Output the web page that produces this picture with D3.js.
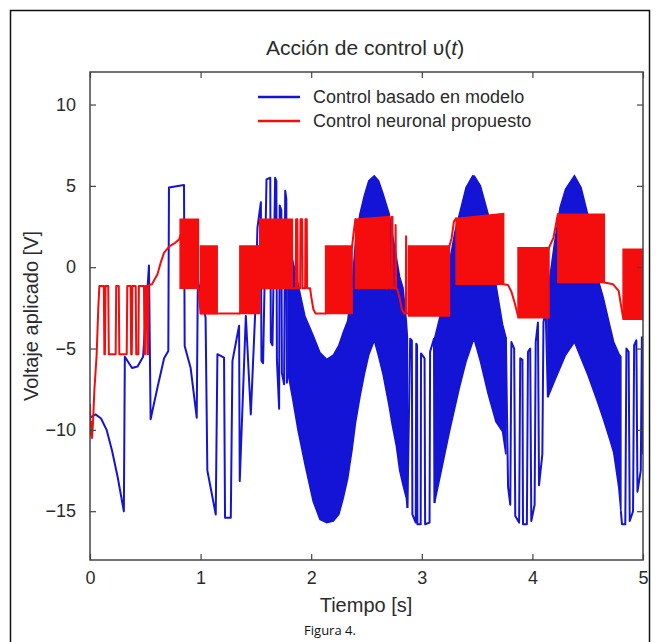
<!DOCTYPE html>
<html>
<head>
<meta charset="utf-8">
<script src="https://cdn.jsdelivr.net/npm/d3@7"></script>
<style>
  body { margin: 0; background: #fff; }
  svg { display: block; }
</style>
</head>
<body>
<svg id="chart" width="656" height="642"></svg>
<script>
// Acción de control v(t)
const xTicks = [0, 1, 2, 3, 4, 5];
const yTicks = [-15, -10, -5, 0, 5, 10];
const seriesNames = ["Control basado en modelo", "Control neuronal propuesto"];

// blue: sparse parts as lines [t, v]
const blueLineA = [
  [0.000,-9.25],[0.05,-9.05],[0.10,-9.3],[0.15,-10.0],[0.20,-11.3],[0.25,-12.9],[0.306,-15.0],
  [0.315,-5.5],[0.38,-6.2],[0.43,-6.1],[0.48,-5.5],[0.533,0.1],[0.548,-9.35],[0.61,-7.4],
  [0.67,-5.6],[0.708,-5.15],[0.714,4.9],[0.85,5.05],[0.856,-4.85],[0.91,-6.2],[0.965,-9.25],
  [0.975,-0.8],[1.045,-3.1],[1.061,-12.5],[1.137,-15.2],[1.152,-5.35],[1.212,-5.56],[1.221,-15.4],
  [1.273,-15.4],[1.288,-5.76],[1.348,-3.6],[1.354,-13.15],[1.409,-3.0],[1.454,-9.05],[1.493,-2.9],
  [1.514,2.44],[1.545,4.0],[1.55,-5.76],[1.565,-5.9],[1.596,5.4],[1.63,5.5],[1.635,-4.6],
  [1.65,-4.8],[1.674,5.5],[1.685,5.3],[1.69,-5.7],[1.71,-8.7],[1.715,3.8],[1.73,3.5],
  [1.735,-6.5],[1.755,-7.2],[1.765,4.7],[1.775,4.2],[1.78,-7.1],[1.79,-6.5]
];
const blueLineB = [
  [2.87,-14.8],[2.895,-4.4],[2.91,-4.5],[2.915,-15.2],[2.945,-15.7],[2.95,-4.7],[2.957,-4.8],
  [2.96,-15.8],[2.99,-15.8],[2.993,-5.3],[3.025,-5.6],[3.03,-15.8],[3.07,-15.7],[3.075,-5.2],
  [3.11,-4.4],[3.115,-14.5]
];
const blueLineC = [
  [3.76,-4.3],[3.78,-13.5],[3.80,-14.6],[3.81,-4.6],[3.835,-5.0],[3.845,-15.3],[3.88,-15.7],
  [3.89,-5.6],[3.91,-5.7],[3.915,-15.8],[3.95,-15.8],[3.96,-5.2],[3.98,-5.0],[3.99,-15.6],
  [4.02,-14.6],[4.03,-4.6],[4.05,-3.4],[4.06,-13.4],[4.09,-11.5],[4.10,-3.4],[4.12,-2.6],[4.14,-8.0]
];
const blueLineD = [
  [4.80,-15.0],[4.81,-15.8],[4.84,-15.8],[4.85,-5.0],[4.87,-5.2],[4.88,-15.6],[4.91,-15.0],
  [4.92,-4.8],[4.94,-4.5],[4.95,-13.8],[4.98,-12.5],[4.99,-4.3],[5.0,-11.5]
];

// blue: dense switching parts as bands [t, upper, lower]
const blueBand1 = [
  [1.79,2.0,-6.5],[1.83,0.5,-8.0],[1.88,-1.0,-10.0],[1.943,-3.0,-12.1],[2.018,-4.2,-14.4],
  [2.079,-5.25,-15.5],[2.14,-5.66,-15.7],[2.20,-5.4,-15.6],[2.25,-4.8,-15.2],[2.29,-4.0,-14.2],
  [2.33,-3.3,-13.0],[2.37,-1.0,-11.2],[2.40,1.5,-9.6],[2.44,3.26,-8.0],[2.48,4.4,-6.6],
  [2.52,5.3,-5.4],[2.57,5.62,-4.5],[2.61,5.3,-5.5],[2.65,4.5,-6.6],[2.706,3.26,-8.6],
  [2.73,2.2,-9.6],[2.77,0.6,-11.0],[2.80,-0.6,-12.5],[2.83,-1.25,-13.4],[2.86,-3.3,-14.2],
  [2.87,-4.3,-14.8]
];
const blueBand2 = [
  [3.115,-4.4,-14.5],[3.18,-2.6,-12.4],[3.25,0.3,-10.1],[3.30,2.2,-8.6],[3.34,3.26,-7.4],
  [3.40,4.9,-5.8],[3.46,5.62,-4.6],[3.476,5.6,-4.5],[3.53,5.0,-5.8],[3.60,3.26,-7.8],
  [3.67,-1.05,-9.5],[3.73,-3.5,-10.1],[3.76,-4.3,-11.5]
];
const blueBand3 = [
  [4.14,-1.5,-8.0],[4.20,1.5,-7.0],[4.25,3.67,-6.2],[4.30,4.8,-5.4],[4.38,5.62,-4.6],
  [4.44,4.9,-5.6],[4.50,3.26,-6.6],[4.58,-0.43,-8.1],[4.64,-1.85,-9.3],[4.70,-3.6,-10.6],
  [4.735,-4.6,-11.4],[4.78,-5.3,-13.5],[4.80,-5.5,-15.0]
];

// red: continuous path [t, v]
const redLine = [
  [0.000,-8.4],[0.006,-10.3],[0.012,-9.5],[0.018,-10.5],[0.026,-9.7],[0.04,-7.5],[0.06,-5.4],
  [0.075,-2.5],[0.085,-1.15],[0.125,-1.15],[0.13,-5.35],[0.135,-5.35],[0.14,-1.15],[0.165,-1.15],
  [0.17,-5.35],[0.232,-5.35],[0.237,-1.15],[0.26,-1.15],[0.265,-5.35],[0.332,-5.35],[0.337,-1.15],
  [0.367,-1.15],[0.372,-5.35],[0.378,-5.35],[0.383,-1.15],[0.413,-1.15],[0.418,-5.35],[0.437,-5.35],
  [0.442,-1.15],[0.488,-1.15],[0.493,-5.35],[0.498,-5.35],[0.503,-1.15],[0.515,-1.15],[0.52,-5.35],
  [0.525,-5.35],[0.53,-1.1],[0.56,-1.05],[0.61,-0.43],[0.64,0.3],[0.67,0.9],[0.72,1.3],[0.77,1.5],
  [0.805,1.7],[0.82,2.0],[0.98,-1.3],[0.99,-2.0],[1.0,-2.85],[1.15,-2.85],[1.355,-2.85],
  [1.535,1.3],[1.54,-1.3],[1.83,-1.3],[1.86,-1.3],[1.863,2.95],[1.875,2.95],[1.878,-1.3],
  [1.90,-1.3],[1.903,2.95],[1.918,2.95],[1.921,-1.3],[1.945,-1.3],[1.948,2.95],[1.96,2.95],
  [1.963,-1.3],[1.99,-1.3],[2.0,-1.8],[2.02,-2.6],[2.04,-2.85],[2.13,-2.85],[2.37,1.3],
  [2.385,2.2],[2.40,2.95],[2.68,-1.3],[2.69,-1.3],[2.693,3.1],[2.705,3.1],[2.708,-1.3],
  [2.725,-1.3],[2.728,3.1],[2.735,3.1],[2.738,-1.3],[2.76,-1.3],[2.763,2.6],[2.768,-1.3],
  [2.78,-1.4],[2.80,-1.9],[2.82,-2.6],[2.84,-2.85],[2.855,-2.85],[2.858,1.9],[2.862,-2.85],
  [2.88,-2.85],[3.25,1.3],[3.27,1.8],[3.29,2.8],[3.31,3.0],[3.74,-1.05],[3.78,-1.1],[3.81,-1.5],
  [3.84,-2.2],[3.87,-3.0],[4.15,1.2],[4.19,1.8],[4.23,3.26],[4.65,-0.94],[4.73,-1.05],
  [4.78,-1.46],[4.80,-2.3],[4.82,-3.1],[5.0,-3.2]
];
// red: dense switching bands [t0, t1, high at t0, high at t1, low]
const redBands = [
  [0.815,0.98,2.95,2.95,-1.3],
  [1.0,1.15,1.3,1.3,-2.85],
  [1.355,1.535,1.3,1.3,-2.85],
  [1.535,1.83,2.95,2.95,-1.3],
  [2.13,2.37,1.3,1.3,-2.85],
  [2.40,2.68,2.95,3.1,-1.3],
  [2.88,3.25,1.3,1.3,-3.0],
  [3.31,3.74,3.0,3.3,-1.05],
  [3.87,4.15,1.2,1.2,-3.1],
  [4.23,4.65,3.26,3.26,-0.94],
  [4.82,5.0,1.1,1.1,-3.2]
];

const BLUE = "#1414d6", RED = "#f50d0d";
const FONT = "Liberation Sans, Arial, sans-serif";
const TXT = "#2b2b2b";

const svg = d3.select("#chart");
const x = d3.scaleLinear().domain([0, 5]).range([90, 643]);
const y = d3.scaleLinear().domain([-18, 12]).range([560, 72]);

// outer figure border
svg.append("rect").attr("x", 10.5).attr("y", 10.5).attr("width", 639).attr("height", 650)
  .attr("fill", "none").attr("stroke", "#111").attr("stroke-width", 1.5);

svg.append("defs").append("clipPath").attr("id", "plot-clip")
  .append("rect").attr("x", 90).attr("y", 72).attr("width", 553).attr("height", 488);

const plot = svg.append("g").attr("clip-path", "url(#plot-clip)");

const line = d3.line().x(d => x(d[0])).y(d => y(d[1]));
const band = d3.area().x(d => x(d[0])).y0(d => y(d[2])).y1(d => y(d[1]));

// blue series
[blueBand1, blueBand2, blueBand3].forEach(b => {
  plot.append("path").attr("d", band(b))
    .attr("fill", BLUE).attr("stroke", BLUE).attr("stroke-width", 1.5);
});
[blueLineA, blueLineB, blueLineC, blueLineD].forEach(l => {
  plot.append("path").attr("d", line(l))
    .attr("fill", "none").attr("stroke", BLUE).attr("stroke-width", 2)
    .attr("stroke-linejoin", "round");
});

// red series on top
plot.append("path").attr("d", line(redLine))
  .attr("fill", "none").attr("stroke", RED).attr("stroke-width", 2)
  .attr("stroke-linejoin", "round");
redBands.forEach(b => {
  const pts = [[b[0], b[2], b[4]], [b[1], b[3], b[4]]];
  plot.append("path").attr("d", band(pts))
    .attr("fill", RED).attr("stroke", RED).attr("stroke-width", 1.5);
});

// axes with inward ticks on all four sides
const styleAxis = g => {
  g.select(".domain").remove();
  g.selectAll(".tick line").attr("stroke", "#444").attr("stroke-width", 1.2);
  g.selectAll(".tick text").attr("fill", TXT).attr("font-family", FONT).attr("font-size", 18);
};
svg.append("g").attr("transform", "translate(0,560)")
  .call(d3.axisBottom(x).tickValues(xTicks).tickSizeInner(-6).tickSizeOuter(0).tickPadding(11).tickFormat(d3.format("d")))
  .call(styleAxis);
svg.append("g").attr("transform", "translate(0,72)")
  .call(d3.axisTop(x).tickValues(xTicks).tickSizeInner(-6).tickSizeOuter(0).tickFormat(""))
  .call(styleAxis);
svg.append("g").attr("transform", "translate(90,0)")
  .call(d3.axisLeft(y).tickValues(yTicks).tickSizeInner(-6).tickSizeOuter(0).tickPadding(14).tickFormat(d3.format("d")))
  .call(styleAxis);
svg.append("g").attr("transform", "translate(643,0)")
  .call(d3.axisRight(y).tickValues(yTicks).tickSizeInner(-6).tickSizeOuter(0).tickFormat(""))
  .call(styleAxis);

// plot frame
svg.append("rect").attr("x", 90).attr("y", 72).attr("width", 553).attr("height", 488)
  .attr("fill", "none").attr("stroke", "#444").attr("stroke-width", 1.5);

// title
const title = svg.append("text").attr("x", 365).attr("y", 55).attr("text-anchor", "middle")
  .attr("font-family", FONT).attr("font-size", 21).attr("fill", TXT);
title.append("tspan").text("Acción de control υ(");
title.append("tspan").attr("font-style", "italic").text("t");
title.append("tspan").text(")");

// axis labels
svg.append("text").attr("x", 366).attr("y", 612).attr("text-anchor", "middle")
  .attr("font-family", FONT).attr("font-size", 20).attr("fill", TXT).text("Tiempo [s]");
svg.append("text").attr("transform", "translate(38,316) rotate(-90)").attr("text-anchor", "middle")
  .attr("font-family", FONT).attr("font-size", 20).attr("fill", TXT).text("Voltaje aplicado [V]");

// legend
const legend = svg.append("g");
[BLUE, RED].forEach((c, i) => {
  legend.append("line").attr("x1", 258).attr("x2", 300)
    .attr("y1", 97 + i * 24).attr("y2", 97 + i * 24)
    .attr("stroke", c).attr("stroke-width", 2.5);
  legend.append("text").attr("x", 313).attr("y", 103 + i * 24)
    .attr("font-family", FONT).attr("font-size", 18).attr("fill", TXT).text(seriesNames[i]);
});

// caption
svg.append("text").attr("x", 330).attr("y", 635).attr("text-anchor", "middle")
  .attr("font-family", "Open Sans, Lato, sans-serif").attr("font-size", 13).attr("fill", "#111")
  .text("Figura 4.");
</script>
</body>
</html>
